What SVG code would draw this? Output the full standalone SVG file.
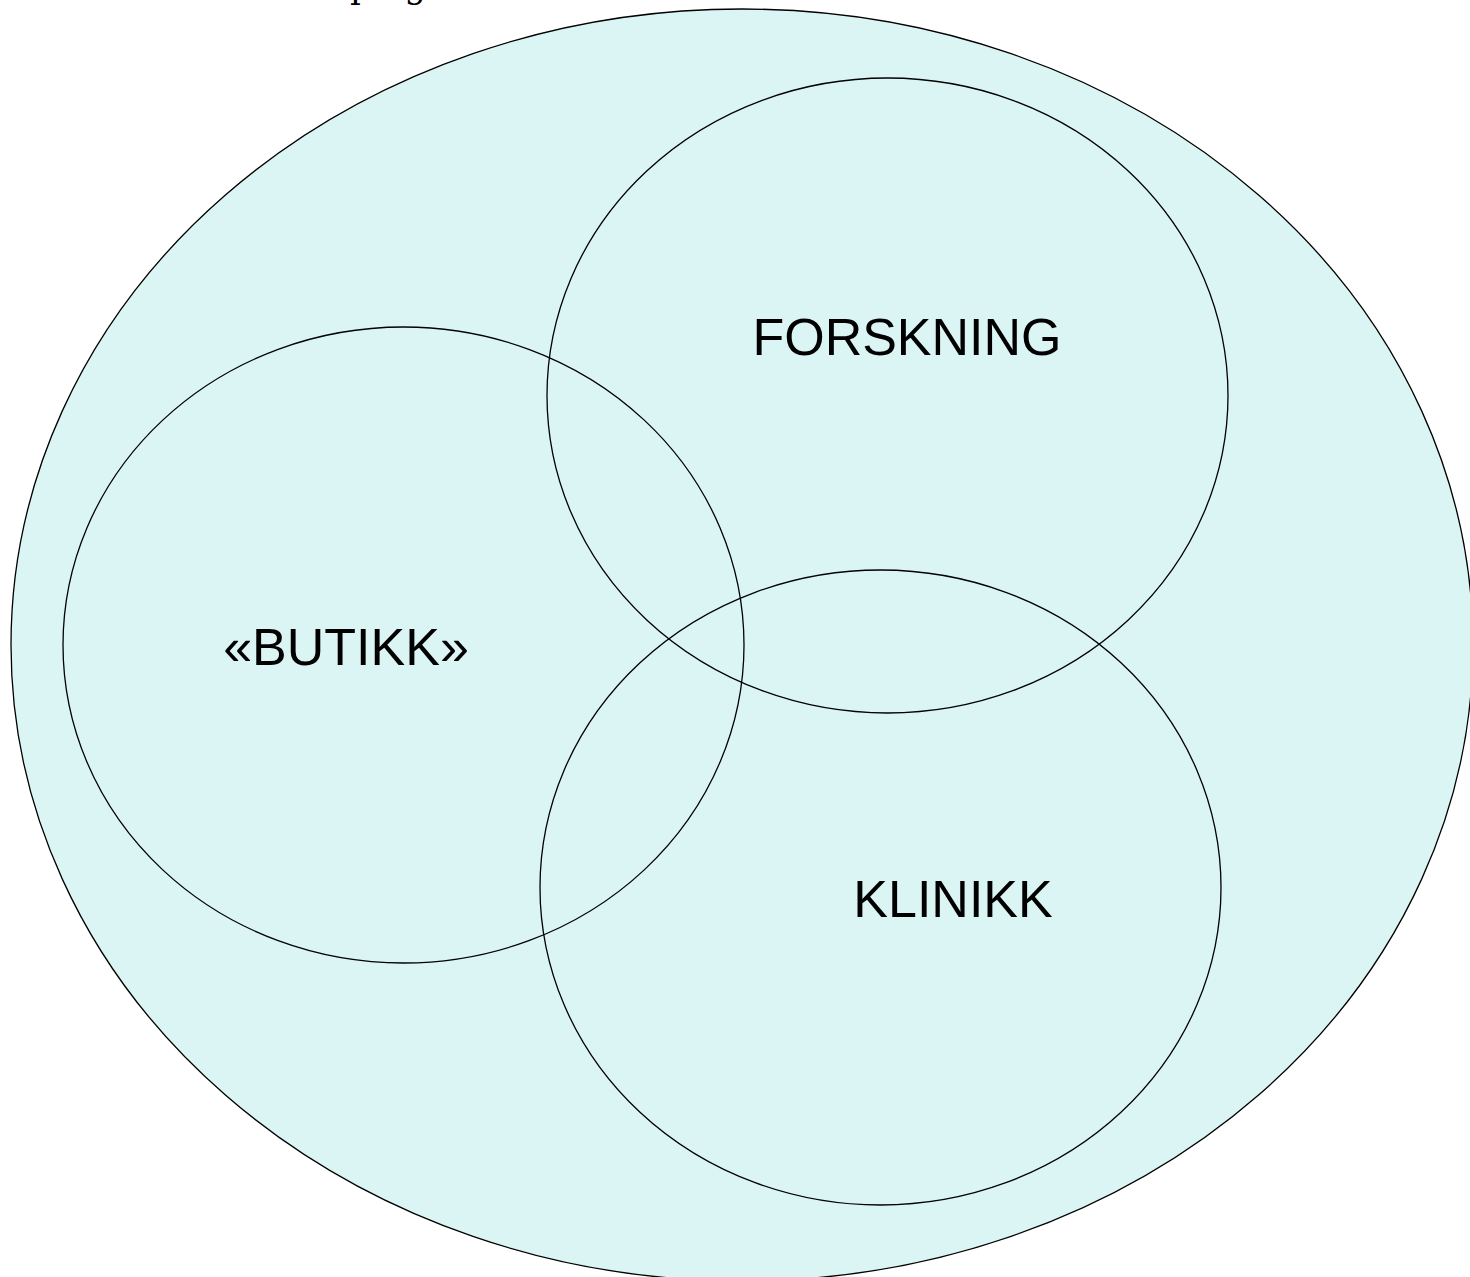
<svg xmlns="http://www.w3.org/2000/svg" width="1470" height="1277" viewBox="0 0 1470 1277">
<style>
.c{fill:none;stroke:#000;stroke-width:1.3}
.o{fill:#daf5f4;stroke:#000;stroke-width:1.3}
.t{font-family:"Liberation Sans",Arial,sans-serif;font-size:52px;fill:#000;text-anchor:middle}
</style>
<rect width="1470" height="1277" fill="#fff"/>
<text x="350" y="-2" style="font-family:'DejaVu Serif',serif;font-size:34px">ping</text>
<g id="outer"><ellipse class="o" cx="742" cy="645" rx="731" ry="636"/></g>
<g id="butikk"><ellipse class="c" cx="403.5" cy="645" rx="340.5" ry="318"/><text class="t" x="346" y="665">«BUTIKK»</text></g>
<g id="forskning"><ellipse class="c" cx="887.5" cy="395.5" rx="340.5" ry="317.5"/><text class="t" x="907" y="355">FORSKNING</text></g>
<g id="klinikk"><ellipse class="c" cx="880.5" cy="887.5" rx="340.5" ry="317.5"/><text class="t" x="953" y="917">KLINIKK</text></g>
<g id="connectors"/>
</svg>
